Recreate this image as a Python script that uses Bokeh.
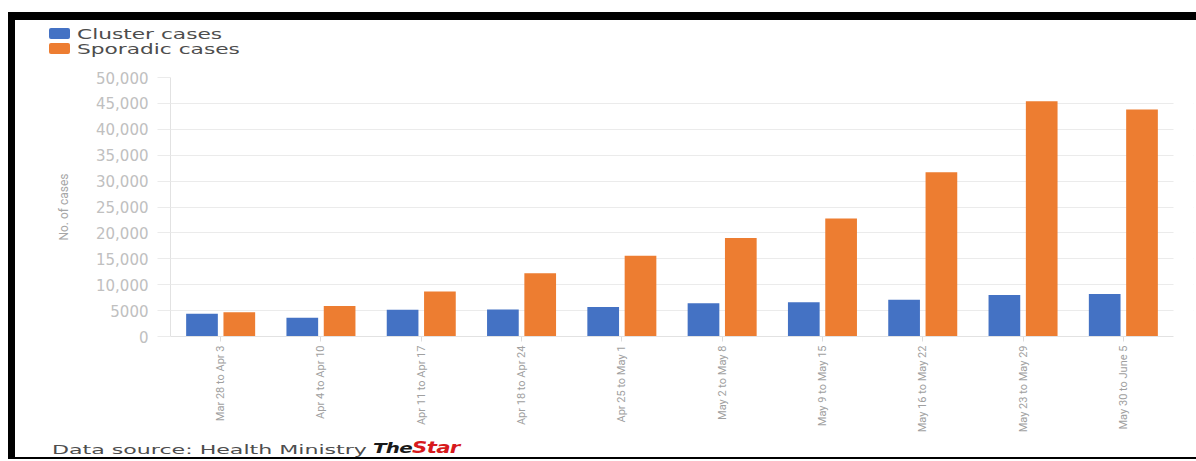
import math
from bokeh.plotting import figure
from bokeh.models import (Range1d, FixedTicker, ColumnDataSource, Div, BoxAnnotation)
from bokeh.transform import dodge
from bokeh.layouts import column
from bokeh.embed import file_html
from bokeh.resources import INLINE

# ---- data ----
weeks = ["Mar 28 to Apr 3", "Apr 4 to Apr 10", "Apr 11 to Apr 17", "Apr 18 to Apr 24",
         "Apr 25 to May 1", "May 2 to May 8", "May 9 to May 15", "May 16 to May 22",
         "May 23 to May 29", "May 30 to June 5"]
cluster_cases = [4400, 3600, 5150, 5200, 5700, 6400, 6600, 7100, 8000, 8200]
sporadic_cases = [4700, 5900, 8700, 12200, 15600, 19000, 22800, 31700, 45400, 43800]
y_ticks = [0, 5000, 10000, 15000, 20000, 25000, 30000, 35000, 40000, 45000, 50000]
y_tick_labels = ["0", "5000", "10,000", "15,000", "20,000", "25,000", "30,000",
                 "35,000", "40,000", "45,000", "50,000"]
series_names = ["Cluster cases", "Sporadic cases"]
source_text = "Data source: Health Ministry"
brand_parts = ["The", "Star"]

BLUE = "#4472C4"
ORANGE = "#ED7D31"
GRID = "#ebebeb"
MAIN_FONT = "DejaVu Sans"
NARROW_FONT = "Roboto"
W = 1181

positions = list(range(len(weeks)))
n = len(weeks)

# ---------- top strip: legend (HTML) ----------
def legend_row(top_px, colour, label):
    return (
        f'<span style="position:absolute;left:34px;top:{top_px + 4}px;width:21px;'
        f'height:11px;background:{colour};border-radius:2px;"></span>'
        f'<span style="position:absolute;left:62px;top:{top_px}px;font-size:14px;'
        f'line-height:20px;color:#4d4d4d;white-space:nowrap;'
        f'transform:scaleX(1.55);transform-origin:0 0;">{label}</span>'
    )

legend_html = (
    f'<div style="position:relative;width:{W}px;height:47px;'
    f'font-family:\'{MAIN_FONT}\';background:white;">'
    + legend_row(4, BLUE, series_names[0])
    + legend_row(19, ORANGE, series_names[1])
    + '</div>'
)
top = Div(text=legend_html, width=W, height=47, margin=0,
          styles={"background-color": "white"})

# ---------- main chart ----------
src = ColumnDataSource(dict(pos=positions, cluster=cluster_cases, sporadic=sporadic_cases))

# one category = 100.3 px; the frame runs on almost to the right edge of the canvas
RIGHT_PAD = 3
x_end = -0.5 + (W - 155 - RIGHT_PAD) / 100.3
p = figure(width=W, height=371, output_backend="svg", toolbar_location=None,
           x_range=Range1d(-0.5, x_end), y_range=Range1d(0, 50000),
           min_border_left=155, min_border_right=RIGHT_PAD, min_border_top=10,
           min_border_bottom=102, outline_line_color=None, margin=0)
p.background_fill_color = "white"
p.border_fill_color = "white"

p.vbar(x=dodge("pos", -0.186), top="cluster", width=0.316,
       source=src, fill_color=BLUE, line_color=None)
p.vbar(x=dodge("pos", 0.186), top="sporadic", width=0.316,
       source=src, fill_color=ORANGE, line_color=None)

p.xgrid.grid_line_color = None
p.ygrid.grid_line_color = GRID
p.ygrid.grid_line_width = 1
# blank out the grid beyond the last category
p.add_layout(BoxAnnotation(left=n - 0.5, fill_color="white", fill_alpha=1,
                           line_color=None, level="underlay"))

p.yaxis.ticker = FixedTicker(ticks=y_ticks)
p.yaxis.major_label_overrides = {t: l for t, l in zip(y_ticks, y_tick_labels)}
p.yaxis.axis_line_color = "#e2e2e2"
p.yaxis.major_tick_line_color = GRID
p.yaxis.major_tick_out = 13
p.yaxis.major_tick_in = 0
p.yaxis.minor_tick_line_color = None
p.yaxis.major_label_standoff = 9
p.yaxis.major_label_text_font = MAIN_FONT
p.yaxis.major_label_text_font_size = "15px"
p.yaxis.major_label_text_color = "#c0c0c0"
p.yaxis.axis_label = "No. of cases"
p.yaxis.axis_label_text_font = NARROW_FONT
p.yaxis.axis_label_text_font_style = "normal"
p.yaxis.axis_label_text_font_size = "12px"
p.yaxis.axis_label_text_color = "#a6a6a6"
p.yaxis.axis_label_standoff = 22

p.xaxis.ticker = FixedTicker(ticks=positions)
p.xaxis.major_label_overrides = {i: w for i, w in zip(positions, weeks)}
p.xaxis.bounds = (-0.5, n - 0.5)
p.xaxis.axis_line_color = "#e2e2e2"
p.xaxis.major_tick_line_color = "#dddddd"
p.xaxis.major_tick_out = 5
p.xaxis.major_tick_in = 0
p.xaxis.minor_tick_line_color = None
p.xaxis.major_label_orientation = math.pi / 2
p.xaxis.major_label_standoff = 4
p.xaxis.major_label_text_font = NARROW_FONT
p.xaxis.major_label_text_font_size = "11px"
p.xaxis.major_label_text_color = "#a0a0a0"

# ---------- bottom strip: source line (HTML) ----------
footer_html = (
    f'<div style="position:relative;width:{W}px;height:19px;overflow:hidden;'
    f'font-family:\'{MAIN_FONT}\';background:white;">'
    f'<span style="position:absolute;left:37px;top:4px;font-size:13px;line-height:15px;'
    f'color:#4d4d4d;white-space:nowrap;transform:scaleX(1.7);transform-origin:0 0;">'
    f'{source_text}</span>'
    f'<span style="position:absolute;left:358px;top:2px;font-size:14px;line-height:17px;'
    f'font-weight:bold;font-style:italic;white-space:nowrap;letter-spacing:-0.5px;'
    f'transform:scaleX(1.42);transform-origin:0 0;">'
    f'<span style="color:#1a1a1a;">{brand_parts[0]}</span>'
    f'<span style="color:#d7191c;font-size:15px;">{brand_parts[1]}</span></span>'
    '</div>'
)
bottom = Div(text=footer_html, width=W, height=19, margin=0,
             styles={"background-color": "white"})

inner = column(top, p, bottom, spacing=0,
               styles={"background-color": "white",
                       "border-top": "8px solid black",
                       "border-left": "7px solid black",
                       "border-bottom": "2px solid black"})
layout = column(inner, spacing=0,
                styles={"background-color": "white",
                        "border-top": "12px solid white",
                        "border-left": "8px solid white"})

open("out.html", "w").write(file_html(layout, INLINE))
